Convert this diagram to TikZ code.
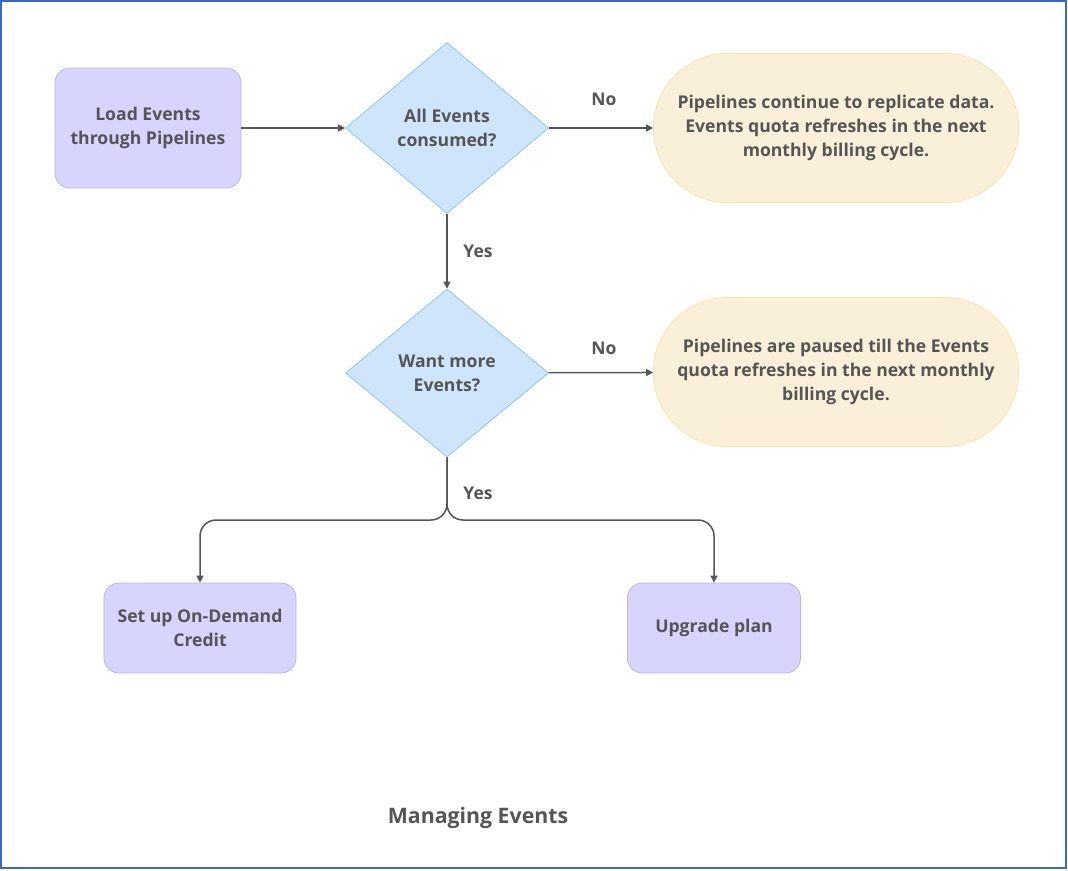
\documentclass[tikz,border=0pt]{standalone}
\usepackage{fontspec}
\setmainfont{Open Sans}
\usepackage{tikz}
\usetikzlibrary{arrows.meta}
\usetikzlibrary{shapes.geometric}

\definecolor{txtgray}{HTML}{555555}
\definecolor{boxfill}{HTML}{D7D4FD}
\definecolor{boxline}{HTML}{B9B3F6}
\definecolor{decfill}{HTML}{CFE5FC}
\definecolor{decline}{HTML}{8EC5F2}
\definecolor{endfill}{HTML}{FAEFD8}
\definecolor{endline}{HTML}{FBE3A2}
\definecolor{framecol}{HTML}{3A6AC0}

\begin{document}
\begin{tikzpicture}[
x                  = 1pt,
y                  = -1pt,
every node/.style  = {font=\fontsize{17.6}{24}\selectfont\bfseries, text=txtgray, align=center},
stepbox/.style     = {rectangle, rounded corners=15pt, draw=boxline, fill=boxfill, line width=0.8pt},
decision/.style    = {diamond, draw=decline, fill=decfill, line width=0.8pt, inner sep=1pt},
endbox/.style      = {rectangle, rounded corners=74pt, draw=endline, fill=endfill, line width=0.8pt,
                      minimum width=365pt, minimum height=149pt},
flow/.style        = {draw=txtgray, line width=1.5pt, -{Triangle[length=7pt,width=7pt]}},
edgelabel/.style   = {font=\fontsize{17.5}{20}\selectfont\bfseries}
]

\useasboundingbox (0,0) rectangle (1068,870);
\draw[framecol, line width=1.5pt] (1,1) rectangle (1066,868);

% nodes
\node [stepbox, minimum width=186pt, minimum height=120pt] (load) at (148,128) {Load Events\\through Pipelines};
\node [decision, minimum width=203pt, minimum height=171pt] (consumed) at (447,128) {All Events\\consumed?};
\node [endbox] (replicate) at (836,128) {Pipelines continue to replicate data.\\Events quota refreshes in the next\\monthly billing cycle.};
\node [decision, minimum width=203pt, minimum height=168pt] (wantmore) at (447,373) {Want more\\Events?};
\node [endbox] (paused) at (836,372) {Pipelines are paused till the Events\\quota refreshes in the next monthly\\billing cycle.};
\node [stepbox, minimum width=192pt, minimum height=90pt] (ondemand) at (200,628) {Set up On-Demand\\Credit};
\node [stepbox, minimum width=173pt, minimum height=90pt] (upgrade) at (714,628) {Upgrade plan};

\coordinate (split) at (447,520);

% connectors
\draw[flow] (load) -- (consumed);
\draw[flow] (consumed) -- (replicate);
\draw[flow] (consumed) -- (wantmore);
\draw[flow] (wantmore) -- (paused);
\draw[flow, rounded corners=16pt] (wantmore.south) |- (ondemand.north |- split) -- (ondemand.north);
\draw[flow, rounded corners=16pt] (wantmore.south) |- (upgrade.north |- split) -- (upgrade.north);

% labels
\node [edgelabel] (no1) at (604,99) {No};
\node [edgelabel] (yes1) at (478,251) {Yes};
\node [edgelabel] (no2) at (604,348) {No};
\node [edgelabel] (yes2) at (478,493) {Yes};

\node [font=\fontsize{21.3}{24}\selectfont\bfseries] (title) at (478,818) {Managing Events};
\end{tikzpicture}
\end{document}
